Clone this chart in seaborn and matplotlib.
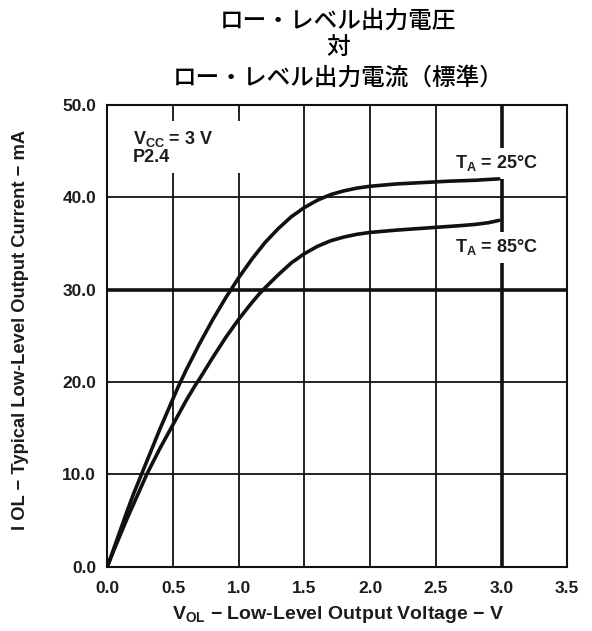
import matplotlib
matplotlib.use("Agg")
import matplotlib.pyplot as plt
import pandas as pd
import seaborn as sns

# Typical output characteristic at VCC = 3 V, pin P2.4
v_25c = [0.0, 0.05, 0.1, 0.15, 0.2, 0.26, 0.3, 0.4, 0.5, 0.54, 0.6, 0.7, 0.8,
         0.9, 1.0, 1.1, 1.2, 1.3, 1.4, 1.5, 1.6, 1.7, 1.8, 1.9, 2.0, 2.2,
         2.4, 2.6, 2.8, 2.98]
i_25c = [0.0, 2.0, 4.0, 6.0, 7.9, 10.0, 11.4, 14.9, 18.2, 19.5, 21.3, 24.1,
         26.7, 29.1, 31.3, 33.3, 35.1, 36.6, 37.9, 38.9, 39.7, 40.3, 40.7,
         41.0, 41.2, 41.45, 41.6, 41.75, 41.85, 42.0]

v_85c = [0.0, 0.05, 0.1, 0.15, 0.2, 0.3, 0.4, 0.5, 0.6, 0.667, 0.7, 0.8, 0.9,
         1.0, 1.1, 1.16, 1.2, 1.3, 1.4, 1.5, 1.6, 1.7, 1.8, 1.9, 2.0, 2.2,
         2.4, 2.6, 2.7, 2.8, 2.9, 2.98]
i_85c = [0.0, 1.8, 3.5, 5.2, 6.8, 10.0, 12.8, 15.4, 18.0, 19.6, 20.3, 22.6,
         24.8, 26.8, 28.6, 29.6, 30.2, 31.6, 32.9, 33.9, 34.7, 35.3, 35.7,
         36.0, 36.2, 36.45, 36.65, 36.85, 36.95, 37.07, 37.25, 37.5]

x_ticks = [0.0, 0.5, 1.0, 1.5, 2.0, 2.5, 3.0, 3.5]
y_ticks = [0.0, 10.0, 20.0, 30.0, 40.0, 50.0]

title_lines = ["ロー・レベル出力電圧", "対", "ロー・レベル出力電流（標準）"]

df = pd.concat([
    pd.DataFrame({"V": v_25c, "I": i_25c, "T": "25"}),
    pd.DataFrame({"V": v_85c, "I": i_85c, "T": "85"}),
])

sns.set_theme(style="white")
plt.rcParams["font.family"] = ["Liberation Sans", "DejaVu Sans"]
plt.rcParams["mathtext.fontset"] = "custom"
plt.rcParams["mathtext.rm"] = "Liberation Sans:bold"
plt.rcParams["mathtext.it"] = "Liberation Sans:bold"
plt.rcParams["mathtext.bf"] = "Liberation Sans:bold"

fig = plt.figure(figsize=(5.92, 6.31), dpi=100)
ax = fig.add_axes([0.1813, 0.1019, 0.7768, 0.7317])

ink = "#111111"
text_ink = "#1c1c1c"

# grid, with the 30 mA and 3.0 V lines drawn heavier
for xv in x_ticks[1:-1]:
    ax.axvline(xv, color=ink, lw=2.6 if xv == 3.0 else 1.3, zorder=1)
for yv in y_ticks[1:-1]:
    ax.axhline(yv, color=ink, lw=2.6 if yv == 30.0 else 1.3, zorder=1)

sns.lineplot(data=df, x="V", y="I", hue="T", palette={"25": ink, "85": ink},
             lw=2.6, legend=False, ax=ax, zorder=3, sort=False)

ax.set_xlim(0, 3.5)
ax.set_ylim(0, 50)
ax.set_xticks(x_ticks)
ax.set_yticks(y_ticks)
ax.set_xticklabels([f"{t:.1f}" for t in x_ticks], fontweight="bold", fontsize=12.5, color=text_ink)
ax.set_yticklabels([f"{t:.1f}" for t in y_ticks], fontweight="bold", fontsize=12.5, color=text_ink)
ax.tick_params(axis="x", length=0, pad=10)
ax.tick_params(axis="y", length=0, pad=8)

for s in ax.spines.values():
    s.set_color(ink)
    s.set_linewidth(1.5)
    s.set_zorder(4)

ax.set_xlabel(r"V$_{\mathregular{OL}}$ − Low-Level Output Voltage − V",
              fontsize=14, color=text_ink, fontweight="bold")
ax.xaxis.set_label_coords(0.5016, -0.1046)
ax.xaxis.label.set_va("center")
ax.set_ylabel("I OL − Typical Low-Level Output Current − mA",
              fontsize=13.2, color=text_ink, fontweight="bold")
ax.yaxis.set_label_coords(-0.188, 0.5127)
ax.yaxis.label.set_va("center")

# supply note; trailing spaces widen its white backing over the grid
box = dict(boxstyle="square,pad=0.35", facecolor="white", edgecolor="none")
ax.text(0.196, 45.4, "V$_{\\mathregular{CC}}$ = 3 V       \nP2.4", fontsize=13,
        color=text_ink, fontweight="bold", ha="left", va="center",
        linespacing=1.05, bbox=box, zorder=2)

tbox = dict(boxstyle="square,pad=0.3", facecolor="white", edgecolor="none")
ax.text(2.96, 43.7, "T$_{\\mathregular{A}}$ = 25°C", fontsize=13, color=text_ink,
        fontweight="bold", ha="center", va="center", bbox=tbox, zorder=2)
ax.text(2.96, 34.6, "T$_{\\mathregular{A}}$ = 85°C", fontsize=13, color=text_ink,
        fontweight="bold", ha="center", va="center", bbox=tbox, zorder=2)

cjk = ["Noto Sans CJK JP", "DejaVu Sans"]
for line, y in zip(title_lines, [0.966, 0.9245, 0.876]):
    fig.text(0.571, y, line, fontsize=17, fontweight="medium", family=cjk,
             ha="center", va="center", color="black")

fig.savefig("out.png", dpi=100, facecolor="white")
